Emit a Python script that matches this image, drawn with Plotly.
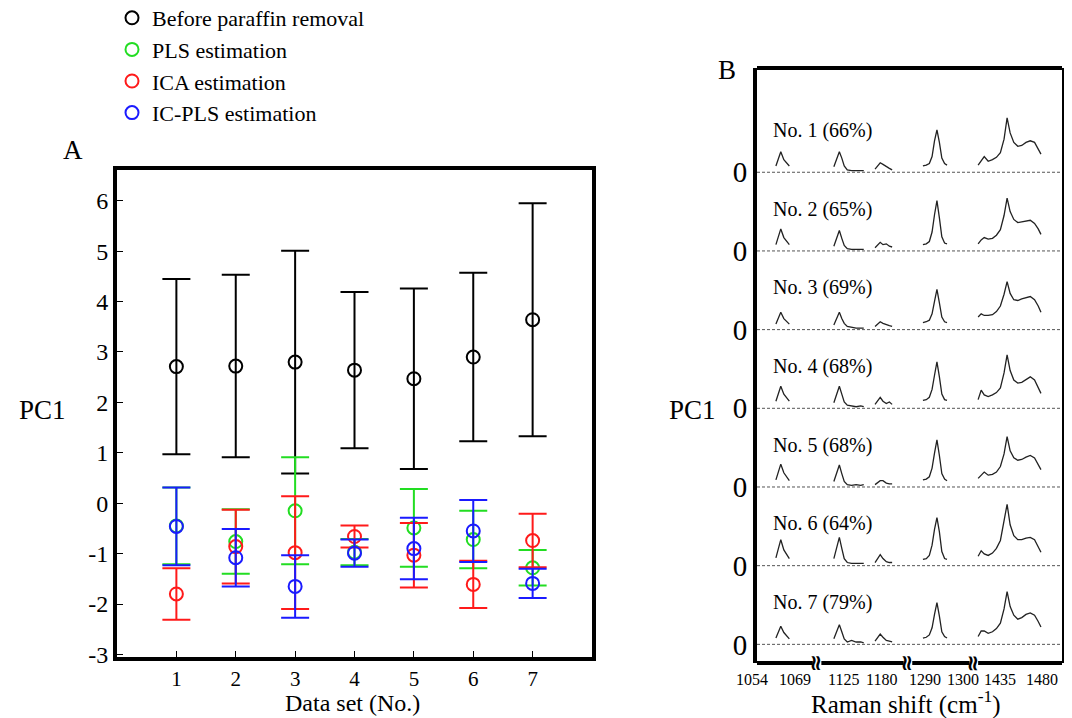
import plotly.graph_objects as go

# ---------------- Panel A data ----------------
datasets = [1, 2, 3, 4, 5, 6, 7]
series_names = ["Before paraffin removal", "PLS estimation", "ICA estimation", "IC-PLS estimation"]
before_mean = [2.71, 2.72, 2.80, 2.64, 2.47, 2.90, 3.64]
before_sd = [1.74, 1.81, 2.21, 1.55, 1.79, 1.67, 2.31]
pls_mean = [-0.45, -0.76, -0.15, -0.97, -0.49, -0.72, -1.28]
pls_sd = [0.76, 0.64, 1.06, 0.26, 0.77, 0.57, 0.35]
ica_mean = [-1.80, -0.86, -0.98, -0.66, -1.03, -1.61, -0.74]
ica_sd = [0.51, 0.73, 1.12, 0.22, 0.64, 0.47, 0.53]
icpls_mean = [-0.46, -1.08, -1.65, -0.99, -0.90, -0.55, -1.59]
icpls_sd = [0.77, 0.57, 0.62, 0.27, 0.61, 0.615, 0.29]
y_ticks_a = [-3, -2, -1, 0, 1, 2, 3, 4, 5, 6]
y_ticktext_a = ["-3", "-2", "-1", "0", "1", "2", "3", "4", "5", "6"]

# ---------------- Panel B data ----------------
row_labels = ["No. 1 (66%)", "No. 2 (65%)", "No. 3 (69%)", "No. 4 (68%)",
              "No. 5 (68%)", "No. 6 (64%)", "No. 7 (79%)"]
# positions along the broken (compressed) Raman axis, 0-100 units
seg1_pos = [6.2, 7.0, 7.8, 8.8, 10.6]
seg2_pos = [25.2, 26.2, 27.0, 27.8, 28.6, 29.6, 31.0, 32.5, 34.0, 35.0]
seg3_pos = [38.7, 39.6, 40.4, 41.3, 42.4, 43.4, 44.3]
seg4_pos = [54.4, 55.5, 56.5, 57.4, 58.2, 59.0, 59.8, 60.6, 61.5, 62.3]
seg5_pos = [72.5, 73.5, 74.5, 75.8, 77.2, 78.5, 79.8, 81.0, 82.0, 83.0,
            84.2, 85.5, 86.8, 88.2, 89.6, 91.0, 92.2, 93.1]

seg1_int = [
    [0.08, 0.17, 0.26, 0.16, 0.08],
    [0.08, 0.18, 0.28, 0.17, 0.08],
    [0.07, 0.15, 0.22, 0.14, 0.07],
    [0.09, 0.19, 0.28, 0.18, 0.09],
    [0.09, 0.19, 0.29, 0.18, 0.08],
    [0.10, 0.22, 0.33, 0.20, 0.09],
    [0.08, 0.16, 0.23, 0.15, 0.07],
]
seg2_int = [
    [0.07, 0.18, 0.26, 0.18, 0.08, 0.03, 0.02, 0.02, 0.02, 0.02],
    [0.06, 0.17, 0.26, 0.16, 0.07, 0.03, 0.02, 0.02, 0.02, 0.02],
    [0.06, 0.15, 0.22, 0.14, 0.08, 0.04, 0.03, 0.02, 0.02, 0.02],
    [0.07, 0.19, 0.28, 0.18, 0.08, 0.04, 0.03, 0.02, 0.03, 0.02],
    [0.07, 0.19, 0.28, 0.17, 0.07, 0.03, 0.02, 0.03, 0.02, 0.03],
    [0.09, 0.24, 0.36, 0.22, 0.09, 0.04, 0.03, 0.03, 0.03, 0.03],
    [0.07, 0.17, 0.25, 0.16, 0.07, 0.03, 0.05, 0.03, 0.03, 0.02],
]
seg3_int = [
    [0.04, 0.09, 0.12, 0.10, 0.07, 0.05, 0.03],
    [0.04, 0.08, 0.11, 0.08, 0.09, 0.06, 0.05],
    [0.04, 0.07, 0.10, 0.08, 0.06, 0.05, 0.04],
    [0.05, 0.10, 0.14, 0.09, 0.06, 0.08, 0.05],
    [0.03, 0.06, 0.08, 0.08, 0.05, 0.04, 0.04],
    [0.04, 0.09, 0.14, 0.09, 0.05, 0.04, 0.04],
    [0.04, 0.09, 0.13, 0.09, 0.05, 0.04, 0.03],
]
seg4_int = [
    [0.08, 0.09, 0.11, 0.20, 0.40, 0.54, 0.38, 0.18, 0.11, 0.09],
    [0.08, 0.09, 0.12, 0.24, 0.46, 0.64, 0.42, 0.18, 0.10, 0.09],
    [0.09, 0.10, 0.12, 0.20, 0.36, 0.51, 0.34, 0.16, 0.10, 0.09],
    [0.10, 0.11, 0.14, 0.24, 0.42, 0.59, 0.40, 0.18, 0.11, 0.10],
    [0.09, 0.10, 0.13, 0.24, 0.43, 0.60, 0.40, 0.17, 0.10, 0.08],
    [0.08, 0.09, 0.13, 0.26, 0.46, 0.61, 0.43, 0.18, 0.09, 0.08],
    [0.08, 0.09, 0.12, 0.21, 0.38, 0.53, 0.36, 0.16, 0.10, 0.08],
]
seg5_int = [
    [0.09, 0.14, 0.20, 0.14, 0.16, 0.19, 0.25, 0.42, 0.69, 0.50, 0.38, 0.33, 0.34, 0.38, 0.40, 0.38, 0.30, 0.23],
    [0.09, 0.14, 0.17, 0.15, 0.16, 0.20, 0.27, 0.45, 0.67, 0.50, 0.40, 0.36, 0.37, 0.38, 0.39, 0.35, 0.28, 0.21],
    [0.16, 0.20, 0.18, 0.18, 0.19, 0.23, 0.30, 0.45, 0.61, 0.46, 0.38, 0.37, 0.39, 0.41, 0.42, 0.38, 0.30, 0.22],
    [0.11, 0.23, 0.17, 0.15, 0.17, 0.20, 0.26, 0.45, 0.68, 0.48, 0.36, 0.32, 0.33, 0.37, 0.40, 0.36, 0.26, 0.19],
    [0.11, 0.15, 0.19, 0.15, 0.16, 0.19, 0.26, 0.42, 0.64, 0.46, 0.37, 0.34, 0.35, 0.38, 0.40, 0.37, 0.29, 0.22],
    [0.12, 0.19, 0.15, 0.13, 0.16, 0.22, 0.32, 0.55, 0.78, 0.52, 0.38, 0.33, 0.33, 0.35, 0.36, 0.33, 0.24, 0.17],
    [0.10, 0.17, 0.17, 0.14, 0.16, 0.20, 0.27, 0.45, 0.67, 0.48, 0.37, 0.32, 0.34, 0.38, 0.40, 0.37, 0.29, 0.22],
]
raman_labels = ["1054", "1069", "1125", "1180", "1290", "1300", "1435", "1480"]
raman_label_pos = [-1.7, 12.5, 28.2, 40.9, 55.1, 67.5, 79.7, 93.3]
axis_breaks = [19.7, 49.5, 71.1]

FONT = "Liberation Serif"
colors = ["#000000", "#22dd22", "#ff1a1a", "#1a1aff"]

W, H = 1072, 718
OFF = 8  # page body margin of the html page


def px(x):
    return (x - OFF) / W


def py(y):
    return 1 - (y - OFF) / H


dA_x = [px(117), px(592)]
dA_y = [py(657), py(170)]
dB_x = [px(757), px(1062)]
dB_y = [py(663), py(68)]

fig = go.Figure()

# ---- Panel A traces ----
for name, mean, sd, col in zip(series_names,
                                [before_mean, pls_mean, ica_mean, icpls_mean],
                                [before_sd, pls_sd, ica_sd, icpls_sd], colors):
    fig.add_trace(go.Scatter(
        x=datasets, y=mean, mode="markers", name=name,
        marker=dict(symbol="circle-open", size=13, color=col, line=dict(width=2, color=col)),
        error_y=dict(type="data", array=sd, visible=True, color=col, thickness=2, width=14),
        xaxis="x", yaxis="y", showlegend=True,
    ))

# ---- Panel B traces ----
n_rows = len(row_labels)
for i in range(n_rows):
    off = n_rows - 1 - i
    fig.add_trace(go.Scatter(
        x=[0, 100], y=[off, off], mode="lines",
        line=dict(color="#555555", width=1, dash="3px,2px"),
        xaxis="x2", yaxis="y2", showlegend=False, hoverinfo="skip"))
    xs, ys = [], []
    for pos, ints in [(seg1_pos, seg1_int[i]), (seg2_pos, seg2_int[i]), (seg3_pos, seg3_int[i]),
                      (seg4_pos, seg4_int[i]), (seg5_pos, seg5_int[i])]:
        xs += list(pos) + [None]
        ys += [off + v for v in ints] + [None]
    fig.add_trace(go.Scatter(
        x=xs, y=ys, mode="lines", line=dict(color="#222222", width=1.3),
        xaxis="x2", yaxis="y2", showlegend=False, connectgaps=False))

annotations = []
for i, lab in enumerate(row_labels):
    off = n_rows - 1 - i
    annotations.append(dict(x=4.6, y=off + 0.53, xref="x2", yref="y2", text=lab,
                            showarrow=False, xanchor="left", yanchor="middle",
                            font=dict(family=FONT, size=20, color="black")))


def b_paper(u):
    return dB_x[0] + u / 100 * (dB_x[1] - dB_x[0])


for lab, pos in zip(raman_labels, raman_label_pos):
    annotations.append(dict(x=b_paper(pos), y=py(679), xref="paper", yref="paper", text=lab,
                            showarrow=False, xanchor="center", yanchor="middle",
                            font=dict(family=FONT, size=16, color="black")))
for b in axis_breaks:
    annotations.append(dict(x=b_paper(b), y=py(663), xref="paper", yref="paper", text="<b>≈</b>",
                            textangle=90, showarrow=False, xanchor="center", yanchor="middle",
                            font=dict(family="DejaVu Sans", size=22, color="black")))

text_items = [
    ("A", 73, 150, 27), ("PC1", 42, 410, 27), ("Data set (No.)", 352, 703, 24),
    ("B", 727, 70, 27), ("PC1", 692, 410, 27), ("Raman shift (cm<sup>-1</sup>)", 906, 702, 25),
]
for t, x0, y0, fs in text_items:
    annotations.append(dict(x=px(x0), y=py(y0), xref="paper", yref="paper", text=t,
                            showarrow=False, xanchor="center", yanchor="middle",
                            font=dict(family=FONT, size=fs, color="black")))

# Panel B frame: top line and broken bottom line
shapes = [dict(type="line", xref="x2", yref="paper", x0=-0.6, x1=100.6,
               y0=py(68), y1=py(68), line=dict(color="black", width=4))]
edges = [0] + axis_breaks + [100]
for a, b in zip(edges[:-1], edges[1:]):
    x0 = a + (1.4 if a != 0 else -0.6)
    x1 = b - (1.4 if b != 100 else -0.6)
    shapes.append(dict(type="line", xref="x2", yref="paper", x0=x0, x1=x1,
                       y0=py(663), y1=py(663), line=dict(color="black", width=4)))

fig.update_layout(
    width=W, height=H, autosize=False,
    margin=dict(l=0, r=0, t=0, b=0, pad=0, autoexpand=False),
    paper_bgcolor="white", plot_bgcolor="white",
    font=dict(family=FONT, color="black"),
    xaxis=dict(domain=dA_x, range=[0, 8], tickvals=datasets,
               ticktext=[str(d) for d in datasets], ticks="inside", ticklen=6, tickwidth=1,
               tickcolor="black", showline=True, linewidth=4, linecolor="black", mirror=True,
               showgrid=False, zeroline=False, tickfont=dict(family=FONT, size=21),
               anchor="y", automargin=False),
    yaxis=dict(domain=dA_y, range=[-3.05, 6.61], tickvals=y_ticks_a, ticktext=y_ticktext_a,
               ticks="inside", ticklen=6, tickwidth=1, tickcolor="black", showline=True,
               linewidth=4, linecolor="black", mirror=True, showgrid=False, zeroline=False,
               tickfont=dict(family=FONT, size=24), anchor="x", automargin=False),
    xaxis2=dict(domain=dB_x, range=[0, 100], showticklabels=False,
                ticks="", showline=False, showgrid=False, zeroline=False, anchor="y2",
                automargin=False),
    yaxis2=dict(domain=dB_y, range=[-0.237, 7.325],
                tickvals=list(range(n_rows)), ticktext=["0"] * n_rows, ticks="",
                showline=True, linewidth=4, linecolor="black", mirror=True, showgrid=False,
                zeroline=False, tickfont=dict(family=FONT, size=29), anchor="x2",
                automargin=False),
    legend=dict(x=px(112), y=py(-3), xanchor="left", yanchor="top",
                bgcolor="rgba(0,0,0,0)", font=dict(family=FONT, size=22, color="black"),
                itemwidth=30, tracegroupgap=0),
    annotations=annotations, shapes=shapes,
)

fig.write_html("out.html")
